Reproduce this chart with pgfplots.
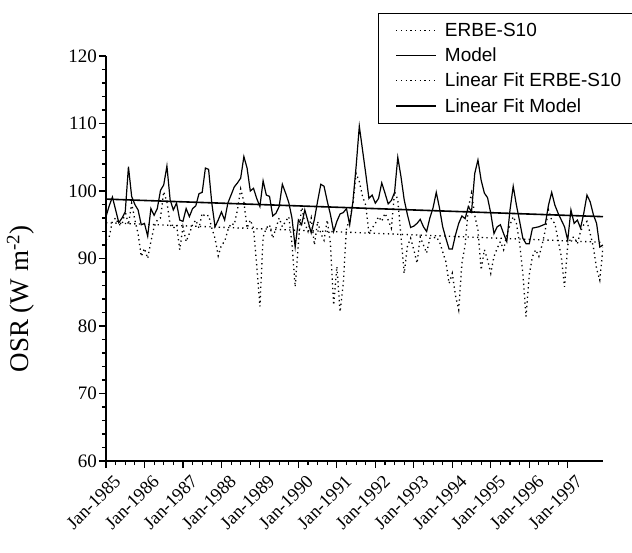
\documentclass[border=0pt]{standalone}
\usepackage{fontspec}
\setmainfont{Liberation Serif}
\newfontfamily\arialfont{Liberation Sans}
\usepackage{pgfplots}
\usepackage{pgfplotstable}
\pgfplotsset{compat=1.18}

% monthly OSR, month 0 = Jan-1985
\pgfplotstableread{
m erbe model
0 92.7 96.2
1 93.2 97.8
2 95.5 99.1
3 96.0 97.2
4 95.0 95.3
5 95.0 96.0
6 97.0 96.9
7 95.0 103.6
8 98.2 99.2
9 95.7 98.0
10 93.7 97.2
11 90.3 95.0
12 91.5 95.2
13 90.0 93.3
14 92.5 97.4
15 94.7 96.4
16 95.7 97.4
17 96.0 100.1
18 99.9 100.9
19 98.4 103.7
20 95.0 98.7
21 94.5 97.2
22 95.0 98.2
23 91.3 95.7
24 94.7 95.5
25 92.5 97.4
26 93.7 96.2
27 95.0 97.4
28 95.7 97.8
29 94.5 99.6
30 96.7 99.8
31 96.2 103.4
32 96.4 103.2
33 94.5 98.2
34 93.0 94.7
35 90.4 95.7
36 92.0 96.9
37 92.5 95.7
38 94.2 98.2
39 95.2 99.4
40 95.0 100.6
41 97.2 101.2
42 100.3 101.9
43 98.4 105.1
44 94.5 103.4
45 95.7 100.0
46 94.5 100.4
47 89.0 98.9
48 82.9 97.7
49 93.2 101.5
50 94.5 99.4
51 95.0 99.2
52 93.0 96.3
53 94.5 96.7
54 96.0 97.7
55 94.7 101.0
56 95.5 99.7
57 96.2 98.3
58 92.2 96.0
59 85.8 91.7
60 92.2 95.7
61 97.9 95.0
62 95.2 97.2
63 94.0 95.5
64 96.0 93.8
65 92.0 95.8
66 95.5 98.5
67 93.7 101.0
68 92.7 100.7
69 95.7 98.5
70 92.2 96.5
71 83.1 94.0
72 88.8 95.5
73 82.1 96.6
74 86.3 96.8
75 94.5 97.4
76 95.7 95.0
77 98.0 98.4
78 102.6 103.6
79 101.4 109.6
80 99.2 106.1
81 97.9 102.6
82 93.7 98.9
83 94.5 99.4
84 95.2 98.2
85 96.2 98.9
86 95.5 101.2
87 96.7 99.7
88 95.7 98.1
89 94.5 98.6
90 99.9 99.8
91 98.7 105.0
92 93.2 102.1
93 87.8 98.7
94 91.8 96.5
95 93.0 94.6
96 91.3 94.8
97 89.3 95.2
98 93.2 95.8
99 92.0 94.7
100 90.8 94.0
101 93.0 96.0
102 93.0 97.5
103 93.2 99.8
104 92.5 97.5
105 91.0 94.7
106 89.5 93.0
107 86.3 91.4
108 87.8 91.4
109 84.5 93.5
110 82.4 95.2
111 89.3 96.3
112 92.0 95.9
113 97.5 97.7
114 99.7 96.9
115 96.4 102.6
116 94.2 104.6
117 88.3 101.6
118 91.3 99.7
119 89.8 99.0
120 87.8 96.7
121 90.3 93.7
122 91.5 94.7
123 92.5 95.0
124 91.3 93.7
125 93.5 92.5
126 95.0 97.2
127 96.2 100.7
128 95.2 97.9
129 92.2 95.5
130 87.8 93.0
131 81.4 92.2
132 87.6 92.2
133 90.3 94.5
134 91.3 94.6
135 90.3 94.7
136 92.0 94.9
137 94.2 95.1
138 97.2 97.9
139 95.7 99.8
140 95.2 97.9
141 92.7 96.7
142 90.3 95.7
143 85.8 94.7
144 92.0 92.7
145 93.0 97.2
146 93.2 95.2
147 92.2 95.7
148 94.0 94.5
149 95.0 96.7
150 95.5 99.4
151 93.7 98.4
152 91.7 96.5
153 88.5 95.2
154 86.8 91.7
155 91.7 92.0
}\osrdata

\begin{document}
\begin{tikzpicture}
\path[use as bounding box] (-106pt,-91pt) rectangle (526pt,461pt);
\begin{axis}[
    at={(0pt,0pt)}, anchor=south west,
    scale only axis,
    width=497pt, height=405pt,
    xmin=0, xmax=155, ymin=60, ymax=120,
    axis lines=left,
    axis line style={-, line width=1.3pt},
    tick align=outside,
    tick style={line width=1.1pt, black},
    major tick length=7pt, minor tick length=4pt,
    xtick={0,12,24,36,48,60,72,84,96,108,120,132,144},
    minor x tick num=3,
    xticklabels={Jan-1985,Jan-1986,Jan-1987,Jan-1988,Jan-1989,Jan-1990,Jan-1991,Jan-1992,Jan-1993,Jan-1994,Jan-1995,Jan-1996,Jan-1997},
    ytick={60,70,...,120},
    minor y tick num=4,
    xticklabel style={rotate=45, anchor=north east, inner sep=1pt, yshift=-8pt, xshift=2pt, font=\fontsize{18.5}{20}\selectfont},
    yticklabel style={inner sep=2pt, font=\fontsize{19}{20}\selectfont},
    /pgf/number format/assume math mode=true,
    ylabel={OSR (W m\textsuperscript{-2})},
    ylabel style={at={(axis description cs:-0.172,0.4)}, anchor=center, font=\fontsize{27}{29}\selectfont},
    legend style={at={(axis description cs:0.547,1.107)}, anchor=north west,
        draw=black, line width=1pt, fill=white,
        font=\arialfont\fontsize{19}{22}\selectfont,
        row sep=6pt, column sep=6pt, inner xsep=17pt, inner ysep=8pt},
    legend cell align=left,
    legend image code/.code={\draw[#1] (0pt,0pt) -- (40pt,0pt);},
]
\addplot[black, line width=1.3pt, dash pattern=on 1.3pt off 3.4pt] table[x=m, y=erbe] {\osrdata};
\addlegendentry{ERBE-S10}
\addplot[black, line width=1.2pt] table[x=m, y=model] {\osrdata};
\addlegendentry{Model}
\addplot[black, line width=1.3pt, dash pattern=on 1.3pt off 3.4pt] coordinates {(0,95.3) (155,92.4)};
\addlegendentry{Linear Fit ERBE-S10}
\addplot[black, line width=1.6pt] coordinates {(0,98.8) (155,96.2)};
\addlegendentry{Linear Fit Model}
\end{axis}
\end{tikzpicture}
\end{document}
